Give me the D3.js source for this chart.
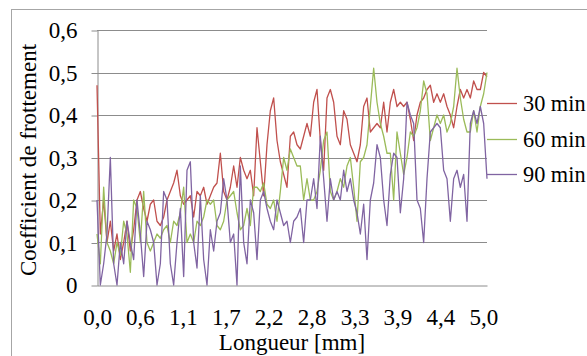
<!DOCTYPE html>
<html><head><meta charset="utf-8">
<script src="https://cdn.jsdelivr.net/npm/d3@7"></script>
<style>body{margin:0;background:#fff}svg{display:block}</style>
</head><body>
<script>
// Sampling step along the length (mm) of the friction traces
const lengthStep = 0.0431;
const seriesNames = ["30 min", "60 min", "90 min"];
const seriesColors = ["#C0504D", "#9BBB59", "#8064A2"];
const yTicks = [0, 0.1, 0.2, 0.3, 0.4, 0.5, 0.6];
const xTickValues = [0, 0.555, 1.11, 1.665, 2.22, 2.775, 3.33, 3.885, 4.44, 4.995];
const xTickLabels = ["0,0", "0,6", "1,1", "1,7", "2,2", "2,8", "3,3", "3,9", "4,4", "5,0"];

const friction30 = [0.47,0.12,0.2,0.1,0.15,0.08,0.12,0.06,0.1,0.15,0.08,0.13,0.2,0.22,0.18,0.15,0.19,0.2,0.15,0.14,
0.16,0.2,0.22,0.24,0.27,0.21,0.19,0.2,0.21,0.16,0.22,0.21,0.23,0.19,0.21,0.23,0.24,0.31,0.22,0.2,
0.23,0.28,0.23,0.3,0.27,0.25,0.27,0.21,0.37,0.29,0.21,0.33,0.41,0.44,0.34,0.29,0.26,0.23,0.35,0.36,
0.33,0.32,0.35,0.38,0.35,0.43,0.46,0.34,0.27,0.44,0.46,0.43,0.35,0.33,0.41,0.39,0.33,0.31,0.29,0.33,
0.42,0.44,0.36,0.37,0.38,0.37,0.43,0.36,0.43,0.46,0.42,0.43,0.42,0.43,0.39,0.34,0.4,0.43,0.44,0.46,
0.47,0.43,0.45,0.43,0.45,0.42,0.4,0.37,0.42,0.46,0.44,0.46,0.44,0.48,0.46,0.46,0.5,0.49];

const friction60 = [0.12,0.05,0.23,0.1,0.08,0.05,0.1,0.07,0.15,0.12,0.03,0.2,0.18,0.1,0.22,0.1,0.08,0.1,0.12,0.11,
0.13,0.14,0.1,0.15,0.14,0.17,0.23,0.1,0.12,0.1,0.15,0.14,0.16,0.2,0.19,0.2,0.14,0.13,0.15,0.2,
0.21,0.22,0.17,0.13,0.14,0.18,0.14,0.23,0.23,0.22,0.24,0.19,0.18,0.2,0.15,0.22,0.3,0.27,0.32,0.3,
0.28,0.28,0.2,0.25,0.2,0.2,0.22,0.27,0.34,0.36,0.22,0.2,0.22,0.25,0.23,0.28,0.3,0.23,0.15,0.29,
0.3,0.33,0.42,0.51,0.43,0.38,0.35,0.31,0.31,0.2,0.36,0.31,0.26,0.3,0.36,0.35,0.37,0.41,0.48,0.45,
0.34,0.37,0.4,0.38,0.4,0.36,0.38,0.42,0.51,0.44,0.39,0.36,0.36,0.41,0.36,0.42,0.45,0.5];

const friction90 = [0.2,0.0,0.05,0.12,0.3,0.05,0.0,0.1,0.05,0.15,0.1,0.06,0.2,0.12,0.02,0.15,0.13,0.1,0.0,0.05,
0.22,0.2,0.05,0.0,0.1,0.18,0.02,0.27,0.29,0.1,0.04,0.21,0.06,0.0,0.13,0.08,0.15,0.17,0.25,0.2,
0.1,0.12,0.0,0.28,0.1,0.05,0.2,0.17,0.06,0.2,0.22,0.18,0.15,0.13,0.2,0.17,0.14,0.15,0.1,0.15,
0.16,0.18,0.1,0.2,0.2,0.25,0.18,0.35,0.25,0.15,0.25,0.2,0.22,0.2,0.27,0.22,0.25,0.2,0.17,0.12,
0.19,0.06,0.2,0.24,0.33,0.3,0.2,0.14,0.26,0.31,0.3,0.17,0.25,0.43,0.4,0.38,0.2,0.18,0.1,0.25,
0.36,0.37,0.38,0.37,0.27,0.25,0.15,0.25,0.27,0.23,0.26,0.15,0.38,0.41,0.38,0.42,0.38,0.25];

const allSeries = [friction30, friction60, friction90];

const W = 587, H = 356;
const FONT = "Liberation Serif";
const fs = 23;

const probe = document.createElement("canvas").getContext("2d");
probe.font = `${fs}px "${FONT}", serif`;
probe.measureText("Coefficient de frottement 0,6");

const svg = d3.select("body").append("svg").attr("width", W).attr("height", H);

// chart border
svg.append("rect").attr("x", 11.5).attr("y", 9.5).attr("width", 590).attr("height", 360)
  .attr("fill", "none").attr("stroke", "#a6a6a6").attr("stroke-width", 1);

const x = d3.scaleLinear().domain([0, lengthStep * 117]).range([97, 487]);
const y = d3.scaleLinear().domain([0, 0.6]).range([285, 30]);
const fmt = d3.formatLocale({decimal: ",", thousands: " ", grouping: [3], currency: ["", ""]}).format(".1f");

// gridlines
svg.append("g").selectAll("line").data(yTicks.filter(d => d > 0)).join("line")
  .attr("x1", 97).attr("x2", 487)
  .attr("y1", d => Math.round(y(d)) + 0.5).attr("y2", d => Math.round(y(d)) + 0.5)
  .attr("stroke", "#8c8c8c").attr("stroke-width", 1);

// y axis
const yAxis = d3.axisLeft(y).tickValues(yTicks).tickSizeInner(6).tickSizeOuter(0).tickPadding(14)
  .tickFormat(d => d === 0 ? "0" : fmt(d));
const gy = svg.append("g").attr("transform", "translate(97.5,0.5)").call(yAxis);
gy.attr("font-family", FONT).attr("font-size", fs);
gy.select(".domain").attr("stroke", "#8c8c8c");
gy.selectAll(".tick line").attr("stroke", "#8c8c8c");
gy.selectAll(".tick text").attr("fill", "#000").attr("font-family", FONT).attr("font-size", fs);

// x axis
const xAxis = d3.axisBottom(x).tickValues(xTickValues).tickSize(0).tickPadding(23)
  .tickFormat((d, i) => xTickLabels[i]);
const gx = svg.append("g").attr("transform", "translate(0,285.5)").call(xAxis);
gx.attr("font-family", FONT).attr("font-size", fs);
gx.select(".domain").attr("stroke", "#8c8c8c");
gx.selectAll(".tick text").attr("fill", "#000").attr("font-family", FONT).attr("font-size", fs);

// lines
const line = d3.line().x((d, i) => x(i * lengthStep)).y(d => y(d));
svg.append("g").selectAll("path").data(allSeries).join("path")
  .attr("d", d => line(d)).attr("fill", "none")
  .attr("stroke", (d, i) => seriesColors[i]).attr("stroke-width", 1.3)
  .attr("stroke-linejoin", "round");

// legend
const legendY = [103, 139, 174];
const lg = svg.append("g").selectAll("g").data(seriesNames).join("g")
  .attr("transform", (d, i) => `translate(487,${legendY[i]})`);
lg.append("line").attr("x1", 0).attr("x2", 30).attr("y1", 0.5).attr("y2", 0.5)
  .attr("stroke", (d, i) => seriesColors[i]).attr("stroke-width", 1.3);
lg.append("text").attr("x", 36).attr("dy", "0.35em")
  .attr("font-family", FONT).attr("font-size", 22.3).attr("fill", "#000").text(d => d);

// axis titles
svg.append("text").attr("x", 292).attr("y", 350).attr("text-anchor", "middle")
  .attr("font-family", FONT).attr("font-size", fs).attr("fill", "#000").text("Longueur [mm]");
svg.append("text").attr("transform", "translate(35.5,160) rotate(-90)").attr("text-anchor", "middle")
  .attr("font-family", FONT).attr("font-size", fs).attr("fill", "#000").text("Coefficient de frottement");
</script>
</body></html>
